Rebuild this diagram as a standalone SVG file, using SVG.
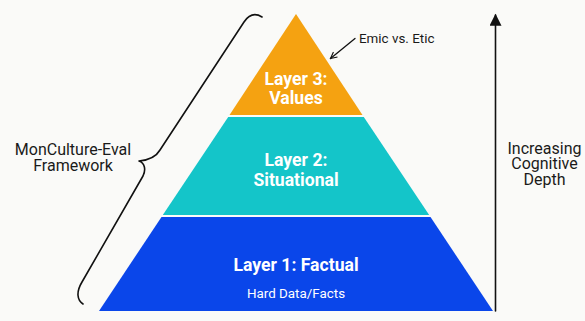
<svg xmlns="http://www.w3.org/2000/svg" width="585" height="321" viewBox="0 0 585 321">
  <style>
    .layer-title { font-family: Roboto, "Liberation Sans", sans-serif; font-weight: bold; font-size: 17.6px; fill: #ffffff; text-anchor: middle; }
    .layer-sub { font-family: Roboto, "Liberation Sans", sans-serif; font-size: 13.4px; fill: #ffffff; text-anchor: middle; }
    .note { font-family: Roboto, "Liberation Sans", sans-serif; font-size: 16px; fill: #1a1a1a; text-anchor: middle; }
    .small-note { font-family: Roboto, "Liberation Sans", sans-serif; font-size: 13.4px; fill: #1a1a1a; }
    .stroke { fill: none; stroke: #111111; stroke-linecap: round; stroke-linejoin: round; }
  </style>
  <defs>
    <marker id="open-head" viewBox="0 0 10 10" refX="9" refY="5" markerWidth="8" markerHeight="8" orient="auto" markerUnits="userSpaceOnUse">
      <path d="M1 1 L9 5 L1 9" fill="none" stroke="#111111" stroke-width="1.4"/>
    </marker>
    <marker id="solid-head" viewBox="0 0 10 10" refX="9" refY="5" markerWidth="14" markerHeight="12" orient="auto" markerUnits="userSpaceOnUse">
      <path d="M0 0 L10 5 L0 10 Z" fill="#111111"/>
    </marker>
  </defs>

  <rect width="585" height="321" fill="#fafaf8"/>

  <!-- pyramid layers -->
  <g id="layer3">
    <polygon points="296,14 362.5,115 229.5,115" fill="#f5a211"/>
    <text class="layer-title" x="296" y="85">Layer 3:</text>
    <text class="layer-title" x="296" y="104">Values</text>
  </g>
  <g id="layer2">
    <polygon points="228.2,117 363.8,117 429.2,215 162.8,215" fill="#14c5c9"/>
    <text class="layer-title" x="296" y="166">Layer 2:</text>
    <text class="layer-title" x="296" y="185.5">Situational</text>
  </g>
  <g id="layer1">
    <polygon points="161.5,217 430.5,217 493,311 99,311" fill="#0a46ea"/>
    <text class="layer-title" x="296" y="271">Layer 1: Factual</text>
    <text class="layer-sub" x="296" y="298">Hard Data/Facts</text>
  </g>

  <!-- framework brace and label -->
  <g id="framework">
    <path class="stroke" stroke-width="1.6" d="M262 17 C254 12 248 16 244 22 L160 150 C156 157 150 160 139 161 C145 163 146 170 143 176 L82 282 C76 292 77 300 83 304"/>
    <text class="note" x="73" y="155">MonCulture-Eval</text>
    <text class="note" x="73" y="171">Framework</text>
  </g>

  <!-- emic/etic annotation -->
  <g id="emic-etic">
    <text class="small-note" x="359" y="43">Emic vs. Etic</text>
  </g>

  <!-- depth axis -->
  <g id="depth-axis">
    <text class="note" x="544.5" y="153.5">Increasing</text>
    <text class="note" x="544.5" y="169">Cognitive</text>
    <text class="note" x="544.5" y="184.5">Depth</text>
  </g>

  <g id="connectors">
    <line class="stroke" stroke-width="1.3" x1="355" y1="38.5" x2="330.5" y2="58.5" marker-end="url(#open-head)"/>
    <line class="stroke" stroke-width="1.6" x1="495.5" y1="311" x2="495.5" y2="15" marker-end="url(#solid-head)"/>
  </g>
</svg>
